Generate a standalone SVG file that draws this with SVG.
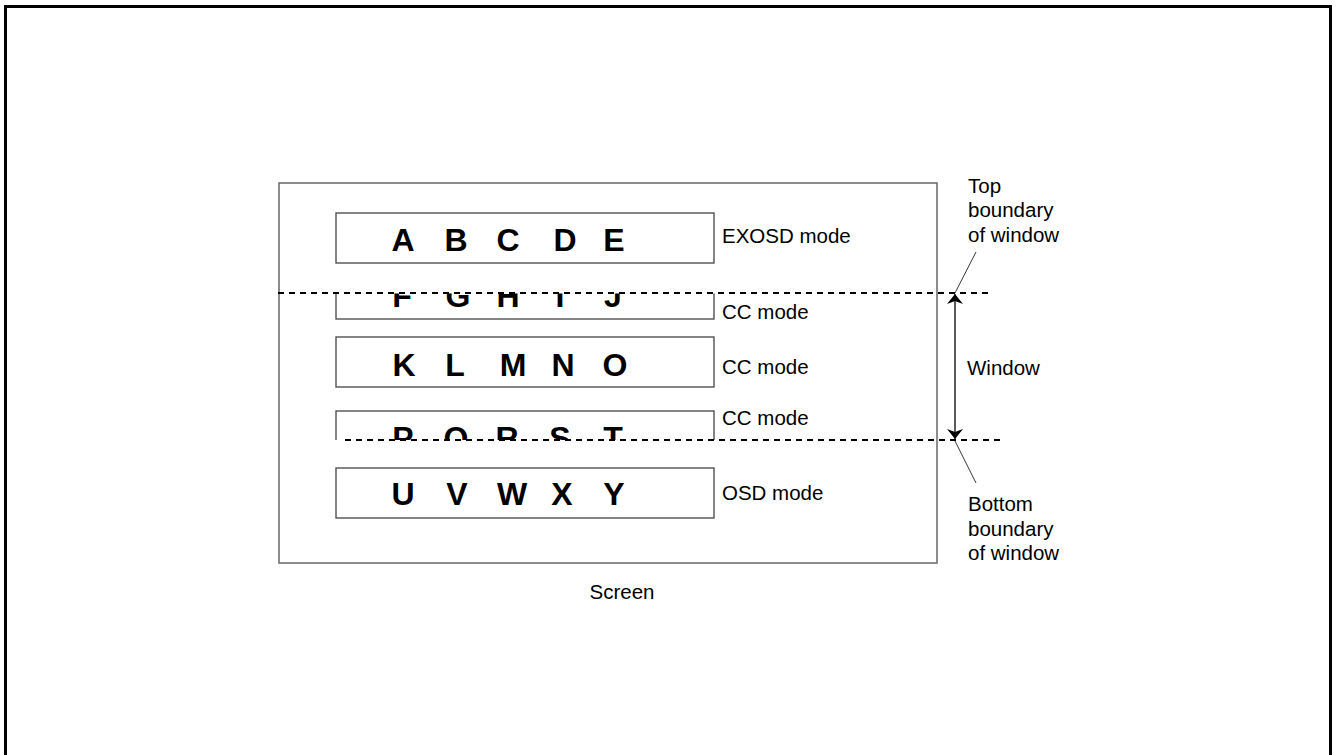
<svg xmlns="http://www.w3.org/2000/svg" width="1336" height="755" viewBox="0 0 1336 755">
<style>
.box{fill:#fff;stroke:#444;stroke-width:1.3}
.lt{font-family:"Liberation Sans",Arial,sans-serif;font-weight:bold;font-size:32px;fill:#000;text-anchor:middle}
.lb{font-family:"Liberation Sans",Arial,sans-serif;font-size:20.5px;fill:#000}
.dash{stroke:#000;stroke-width:1.8;stroke-dasharray:6 5;fill:none}
.lead{stroke:#000;stroke-width:0.8;fill:none}
</style>
<defs>
<marker id="ah" viewBox="0 0 10 16" refX="10" refY="8" markerWidth="10" markerHeight="16" markerUnits="userSpaceOnUse" orient="auto-start-reverse">
<path d="M0,0 L10,8 L0,16 L3,8 Z" fill="#000"/>
</marker>
<clipPath id="c2"><rect x="300" y="293.5" width="450" height="40"/></clipPath>
<clipPath id="c4"><rect x="300" y="400" width="450" height="40"/></clipPath>
</defs>
<rect x="5.5" y="6.5" width="1325" height="760" fill="none" stroke="#000" stroke-width="3"/>
<g id="screen">
<rect x="279" y="183" width="658" height="380" fill="none" stroke="#666" stroke-width="1.5"/>
<text class="lb" x="622" y="599" text-anchor="middle">Screen</text>
</g>
<g id="row1">
<rect class="box" x="336" y="213" width="378" height="50"/>
<text class="lt" y="251"><tspan x="403">A</tspan><tspan x="456">B</tspan><tspan x="508">C</tspan><tspan x="565">D</tspan><tspan x="614">E</tspan></text>
<text class="lb" x="722" y="243">EXOSD mode</text>
</g>
<g id="row2">
<g clip-path="url(#c2)">
<rect class="box" x="336" y="269" width="378" height="50"/>
<text class="lt" y="307"><tspan x="402">F</tspan><tspan x="458">G</tspan><tspan x="508">H</tspan><tspan x="560">I</tspan><tspan x="613">J</tspan></text>
</g>
<text class="lb" x="722" y="319">CC mode</text>
</g>
<g id="row3">
<rect class="box" x="336" y="337" width="378" height="50"/>
<text class="lt" y="376"><tspan x="404">K</tspan><tspan x="455">L</tspan><tspan x="513">M</tspan><tspan x="563">N</tspan><tspan x="615">O</tspan></text>
<text class="lb" x="722" y="374">CC mode</text>
</g>
<g id="row4">
<g clip-path="url(#c4)">
<rect class="box" x="336" y="411" width="378" height="50"/>
<text class="lt" y="449"><tspan x="403">P</tspan><tspan x="456">Q</tspan><tspan x="507">R</tspan><tspan x="560">S</tspan><tspan x="613">T</tspan></text>
</g>
<text class="lb" x="722" y="425">CC mode</text>
</g>
<g id="row5">
<rect class="box" x="336" y="468" width="378" height="50"/>
<text class="lt" y="505"><tspan x="403">U</tspan><tspan x="457">V</tspan><tspan x="512">W</tspan><tspan x="562">X</tspan><tspan x="614">Y</tspan></text>
<text class="lb" x="722" y="500">OSD mode</text>
</g>
<g id="labels">
<text class="lb" x="968" y="193">Top</text>
<text class="lb" x="968" y="217">boundary</text>
<text class="lb" x="968" y="242">of window</text>
<text class="lb" x="967" y="375">Window</text>
<text class="lb" x="968" y="511">Bottom</text>
<text class="lb" x="968" y="536">boundary</text>
<text class="lb" x="968" y="560">of window</text>
</g>
<g id="connectors">
<line class="dash" x1="278" y1="293" x2="993" y2="293"/>
<line class="dash" x1="345" y1="440" x2="1000" y2="440"/>
<line x1="955" y1="294" x2="955" y2="439" stroke="#000" stroke-width="1.3" marker-start="url(#ah)" marker-end="url(#ah)"/>
<line class="lead" x1="955" y1="293" x2="976" y2="252"/>
<line class="lead" x1="955" y1="441" x2="976" y2="483"/>
</g>
</svg>
